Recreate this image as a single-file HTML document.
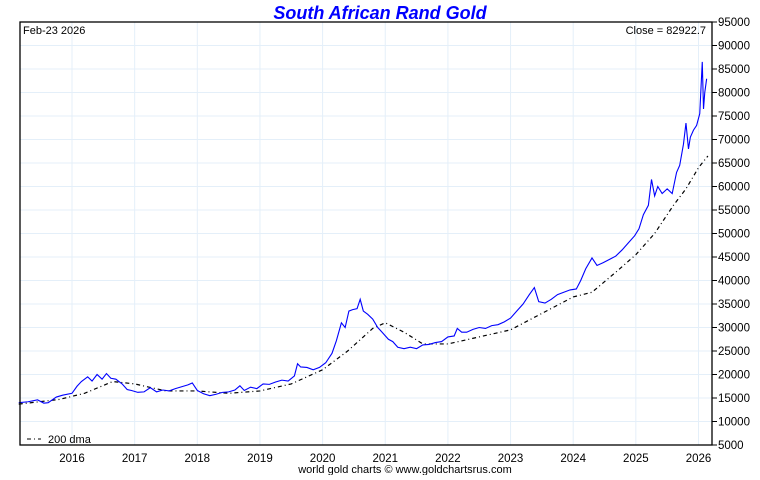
<!DOCTYPE html>
<html><head><meta charset="utf-8"><style>
body{margin:0;background:#fff;font-family:"Liberation Sans",sans-serif}
svg text{font-family:"Liberation Sans",sans-serif}
</style></head><body>
<svg id="c" width="760" height="475"></svg>
<script>
const priceX=[2015.15,2015.3,2015.45,2015.55,2015.62,2015.75,2015.85,2016.0,2016.08,2016.15,2016.25,2016.32,2016.4,2016.48,2016.55,2016.62,2016.7,2016.8,2016.88,2016.95,2017.05,2017.15,2017.25,2017.35,2017.45,2017.55,2017.65,2017.75,2017.85,2017.92,2018.0,2018.1,2018.2,2018.3,2018.4,2018.5,2018.6,2018.68,2018.75,2018.85,2018.95,2019.05,2019.15,2019.25,2019.35,2019.45,2019.55,2019.6,2019.65,2019.75,2019.85,2019.95,2020.05,2020.15,2020.22,2020.3,2020.36,2020.42,2020.48,2020.55,2020.6,2020.65,2020.72,2020.8,2020.88,2020.95,2021.05,2021.12,2021.2,2021.3,2021.4,2021.5,2021.6,2021.7,2021.8,2021.9,2022.0,2022.1,2022.15,2022.22,2022.3,2022.4,2022.5,2022.6,2022.7,2022.8,2022.9,2023.0,2023.1,2023.2,2023.3,2023.38,2023.45,2023.55,2023.65,2023.75,2023.85,2023.95,2024.05,2024.12,2024.2,2024.3,2024.38,2024.48,2024.58,2024.68,2024.78,2024.88,2024.98,2025.05,2025.12,2025.2,2025.25,2025.3,2025.35,2025.42,2025.5,2025.58,2025.65,2025.7,2025.76,2025.8,2025.84,2025.87,2025.92,2025.97,2026.02,2026.06,2026.08,2026.1,2026.13,2026.15];
const priceY=[14000,14200,14600,13900,14000,15200,15600,16000,17500,18500,19500,18600,20000,19000,20200,19200,19000,18000,16800,16600,16200,16300,17200,16300,16700,16500,17000,17400,17800,18200,16600,15900,15500,15800,16200,16300,16700,17600,16600,17300,17000,18000,17900,18400,18800,18600,19700,22300,21600,21500,21000,21500,22500,24500,27200,31000,30000,33500,33800,34000,36000,33500,32800,31800,30000,29000,27500,27000,25800,25500,25800,25500,26300,26400,26800,27000,28000,28200,29800,29000,29000,29600,30000,29800,30400,30600,31200,32000,33500,35000,37000,38500,35500,35200,36000,37000,37500,38000,38200,40000,42500,44800,43200,43800,44500,45200,46500,48000,49500,51000,54000,56000,61500,58000,60000,58500,59500,58500,63000,64500,69000,73500,68000,70500,72000,73000,75500,86500,76500,80000,82923];
const dmaX=[2015.15,2015.8,2016.2,2016.65,2017.0,2017.5,2018.0,2018.5,2019.0,2019.5,2020.0,2020.4,2020.8,2021.0,2021.3,2021.6,2022.0,2022.5,2023.0,2023.5,2024.0,2024.3,2024.7,2025.0,2025.3,2025.6,2025.8,2026.0,2026.15];
const dmaY=[13700,14700,16000,18500,18000,16500,16500,16000,16500,18000,21000,25000,29800,31000,29000,26500,26500,28000,29500,33000,36500,37500,42000,45500,50000,56000,59500,64000,66500];
const yTicks=[5000,10000,15000,20000,25000,30000,35000,40000,45000,50000,55000,60000,65000,70000,75000,80000,85000,90000,95000];
const xTicks=[2016,2017,2018,2019,2020,2021,2022,2023,2024,2025,2026];
const L=20,R=712,T=22,B=445;
const xs=v=>L+(v-2015.17)*62.65;
const ys=v=>B-(v-5000)/90000*(B-T);
const svg=document.getElementById('c');const NS='http://www.w3.org/2000/svg';
function mk(t,a,txt){const e=document.createElementNS(NS,t);for(const k in a)e.setAttribute(k,a[k]);if(txt!=null)e.textContent=txt;svg.appendChild(e);return e;}
yTicks.forEach(v=>{const y=ys(v);
const g=mk('line',{x1:L,x2:R,y1:y,y2:y,stroke:'#e4eff9','stroke-width':1});


const tk=mk('line',{x1:R,x2:R+5,y1:y,y2:y,stroke:'#000'});


const t=mk('text',{x:R+6,y:y+4,'font-size':11.5},v);

});
xTicks.forEach(v=>{const x=xs(v);
const g=mk('line',{x1:x,x2:x,y1:T,y2:B,stroke:'#e4eff9'});


const t=mk('text',{x:x,y:462,'font-size':11.5,'text-anchor':'middle'},v);

});
const d=mk('polyline',{points:dmaX.map((v,i)=>xs(v)+','+ys(dmaY[i])).join(' '),fill:'none',stroke:'#000','stroke-width':1.2,'stroke-dasharray':'4,3,1,3'});


const p=mk('polyline',{points:priceX.map((v,i)=>xs(v)+','+ys(priceY[i])).join(' '),fill:'none',stroke:'#0000ff','stroke-width':1.1});


const f=mk('rect',{x:L,y:T,width:R-L,height:B-T,fill:'none',stroke:'#000','stroke-width':1.3});


const ti=mk('text',{x:380,y:19,'font-size':18,'font-weight':'bold','font-style':'italic',fill:'#0000ff','text-anchor':'middle'},'South African Rand Gold');


const dt=mk('text',{x:23,y:34,'font-size':11},'Feb-23  2026');


const cl=mk('text',{x:706,y:34,'font-size':11,'text-anchor':'end'},'Close = 82922.7');


const ll=mk('line',{x1:27,x2:41,y1:439,y2:439,stroke:'#000','stroke-dasharray':'4,3,1,3'});


const lt=mk('text',{x:48,y:443,'font-size':11},'200 dma');


const ft=mk('text',{x:405,y:473,'font-size':11,'text-anchor':'middle'},'world gold charts © www.goldchartsrus.com');


</script>
</body></html>
